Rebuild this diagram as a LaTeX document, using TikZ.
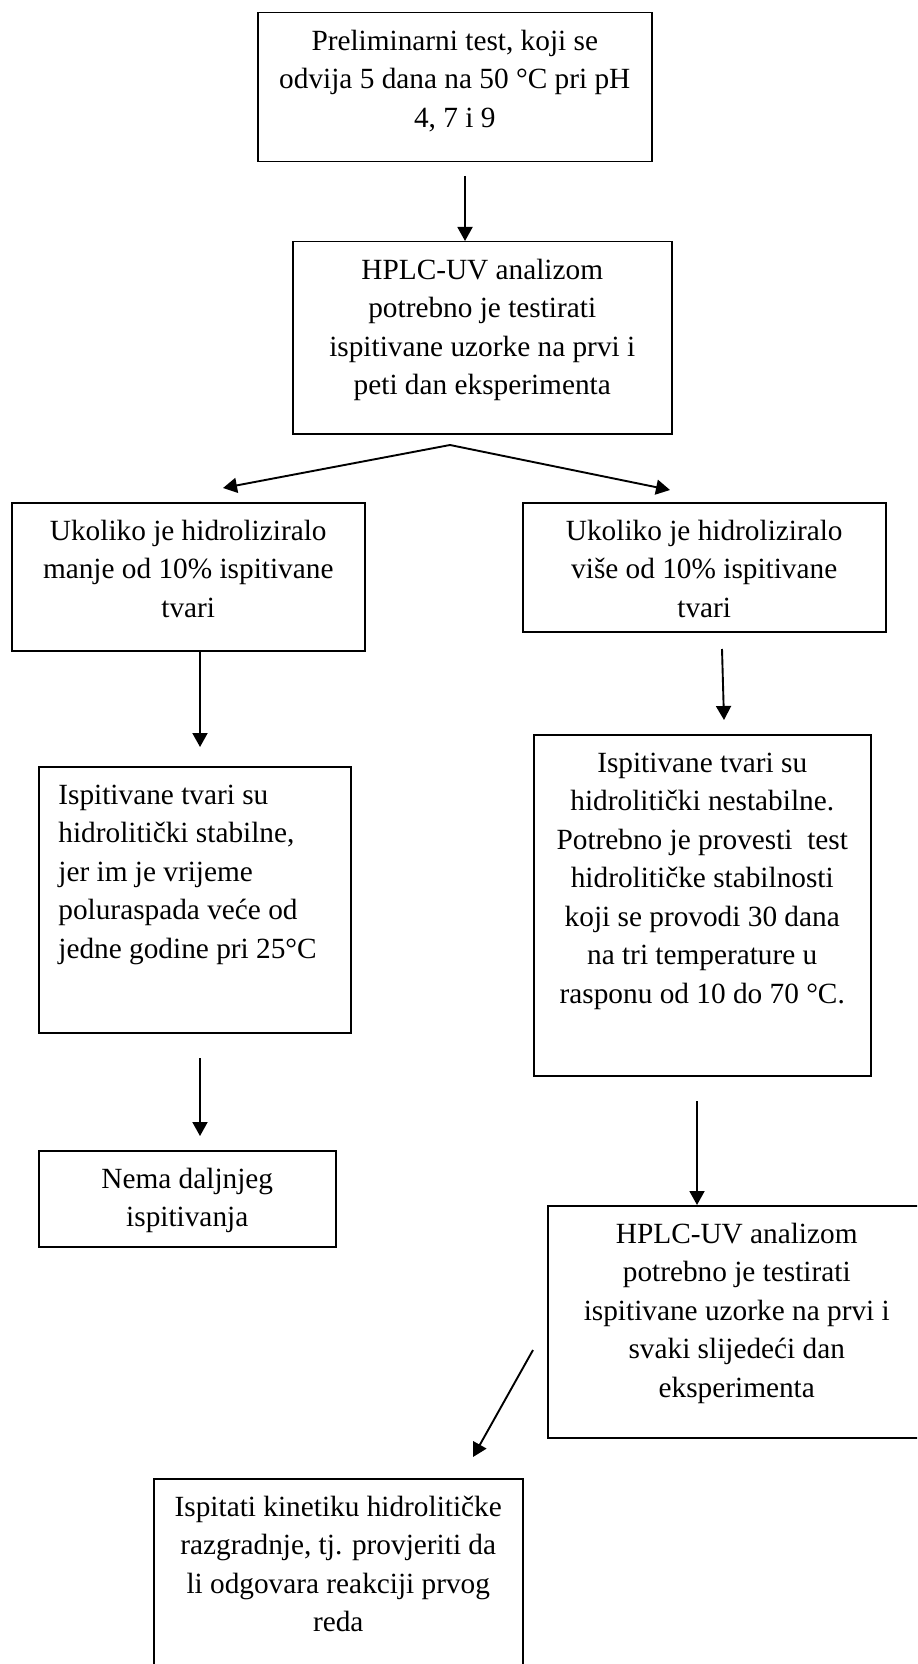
\documentclass[tikz,border=0pt]{standalone}
\usepackage{fontspec}
\setmainfont{Liberation Serif}
\usetikzlibrary{arrows.meta}
\tikzset{
	box/.style={draw, line width=0.75pt, anchor=north west, inner sep=0pt},
	txt/.style={anchor=north, inner sep=0pt, align=center, font=\fontsize{14.65pt}{19.25pt}\selectfont},
	tip/.tip={Triangle[length=7pt,width=7.5pt]},
	arr/.style={line width=0.95pt, -tip},
}
\begin{document}
\begin{tikzpicture}[x=0.5pt, y=-0.5pt, line join=miter]
		\useasboundingbox (0,0) rectangle (917,1664);
		\clip (0,0) rectangle (917,1664);
		% boxes (corner at top left, px)
		\node[box, minimum width=197pt, minimum height=74.5pt] (b1) at (257,12) {};
		\node[box, minimum width=189.5pt, minimum height=96pt] (b2) at (292,241) {};
		\node[box, minimum width=176.5pt, minimum height=74pt] (b3) at (11,502) {};
		\node[box, minimum width=181.5pt, minimum height=64.5pt] (b4) at (522,502) {};
		\node[box, minimum width=156pt, minimum height=133pt] (b5) at (38,766) {};
		\node[box, minimum width=168.5pt, minimum height=170.5pt] (b6) at (533,734) {};
		\node[box, minimum width=148.5pt, minimum height=48pt] (b7) at (38,1150) {};
		\node[box, minimum width=189pt, minimum height=116pt] (b8) at (547,1205) {};
		\node[box, minimum width=184.5pt, minimum height=120pt] (b9) at (153,1478) {};
		% texts
		\node[txt] (t1) at ([yshift=-5.5pt]b1.north) {\strut Preliminarni test, koji se\\odvija 5 dana na 50 °C pri pH\\4, 7 i 9};
		\node[txt] (t2) at ([yshift=-5.5pt]b2.north) {\strut HPLC-UV analizom\\potrebno je testirati\\ispitivane uzorke na prvi i\\peti dan eksperimenta};
		\node[txt] (t3) at ([yshift=-5.5pt]b3.north) {\strut Ukoliko je hidroliziralo\\manje od 10\% ispitivane\\tvari};
		\node[txt] (t4) at ([yshift=-5.5pt]b4.north) {\strut Ukoliko je hidroliziralo\\više od 10\% ispitivane\\tvari};
		\node[txt, anchor=north west, align=left] (t5) at ([xshift=10pt,yshift=-5.5pt]b5.north west) {\strut Ispitivane tvari su\\hidrolitički stabilne,\\jer im je vrijeme\\poluraspada veće od\\jedne godine pri 25°C};
		\node[txt] (t6) at ([yshift=-5.5pt]b6.north) {\strut Ispitivane tvari su\\hidrolitički nestabilne.\\Potrebno je provesti\ \ test\\hidrolitičke stabilnosti\\koji se provodi 30 dana\\na tri temperature u\\rasponu od 10 do 70 °C.};
		\node[txt] (t7) at ([yshift=-5.5pt]b7.north) {\strut Nema daljnjeg\\ispitivanja};
		\node[txt] (t8) at ([yshift=-5.5pt]b8.north) {\strut HPLC-UV analizom\\potrebno je testirati\\ispitivane uzorke na prvi i\\svaki slijedeći dan\\eksperimenta};
		\node[txt] (t9) at ([yshift=-5.5pt]b9.north) {\strut Ispitati kinetiku hidrolitičke\\razgradnje, tj. provjeriti da\\li odgovara reakciji prvog\\reda};
		% arrows
		\coordinate (a1) at (465,176);
		\coordinate (fork) at (450,445);
		\coordinate (f3) at (223,488);
		\coordinate (f4) at (670,490);
		\coordinate (a3) at (200,650); \coordinate (a3e) at (200,747);
		\coordinate (a4) at (722,649); \coordinate (a4e) at (724,720);
		\coordinate (a5) at (200,1058); \coordinate (a5e) at (200,1136);
		\coordinate (a6) at (697,1101);
		\coordinate (a7) at (533,1350); \coordinate (a7e) at (473,1457);
		\draw[arr] (a1) -- (a1 |- b2.north);
		\draw[arr, tip-tip] (f3) -- (fork) -- (f4);
		\draw[arr] (a3) -- (a3e);
		\draw[arr] (a4) -- (a4e);
		\draw[arr] (a5) -- (a5e);
		\draw[arr] (a6) -- (a6 |- b8.north);
		\draw[arr] (a7) -- (a7e);
	\end{tikzpicture}
\end{document}
